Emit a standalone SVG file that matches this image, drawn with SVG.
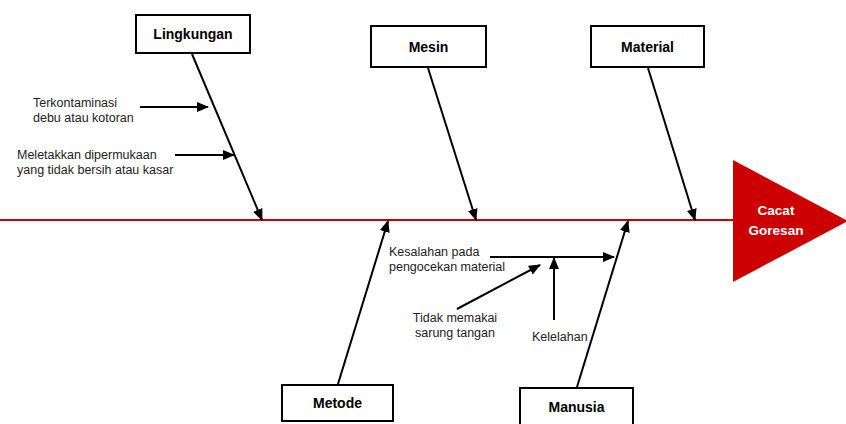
<svg xmlns="http://www.w3.org/2000/svg" width="846" height="424" viewBox="0 0 846 424">
<defs>
<marker id="ah" markerUnits="userSpaceOnUse" markerWidth="12" markerHeight="10" refX="11" refY="5" orient="auto">
<path d="M0,0 L12,5 L0,10 Z" fill="#000"/>
</marker>
<style>
.box{fill:#fff;stroke:#000;stroke-width:2}
.lbl{font-family:"Liberation Sans",Arial,sans-serif;font-weight:bold;font-size:14px;fill:#000;text-anchor:middle}
.txt{font-family:"Liberation Sans",Arial,sans-serif;font-size:12.5px;fill:#222}
.con{stroke:#000;stroke-width:2;fill:none;marker-end:url(#ah)}
.head{font-family:"Liberation Sans",Arial,sans-serif;font-weight:bold;font-size:13.5px;fill:#fff;text-anchor:middle}
</style>
</defs>
<rect width="846" height="424" fill="#fff"/>
<g id="spine">
<line x1="0" y1="220" x2="735" y2="220" stroke="#cc0000" stroke-width="2"/>
</g>
<g id="connectors">
<line class="con" x1="192" y1="54" x2="262" y2="220"/>
<line class="con" x1="428" y1="68" x2="476" y2="220"/>
<line class="con" x1="648" y1="68" x2="695" y2="220"/>
<line class="con" x1="338" y1="384" x2="388" y2="221"/>
<line class="con" x1="577" y1="387" x2="628" y2="221"/>
<line class="con" x1="140" y1="107" x2="208" y2="107"/>
<line class="con" x1="175" y1="155" x2="234" y2="155"/>
<line class="con" x1="490" y1="257" x2="614" y2="257"/>
<line class="con" x1="457" y1="309" x2="540" y2="265"/>
<line class="con" x1="554" y1="320" x2="554" y2="258"/>
</g>
<g id="effect">
<path d="M733,160 L848,221 L733,282 Z" fill="#cc0000"/>
<text class="head" x="776" y="215">Cacat</text>
<text class="head" x="776" y="235">Goresan</text>
</g>
<g id="lingkungan">
<rect class="box" x="136" y="15" width="114" height="38"/>
<text class="lbl" x="193" y="39">Lingkungan</text>
</g>
<g id="mesin">
<rect class="box" x="371" y="26" width="115" height="41"/>
<text class="lbl" x="428.5" y="51.5">Mesin</text>
</g>
<g id="material">
<rect class="box" x="591" y="26" width="113" height="41"/>
<text class="lbl" x="647.5" y="51.5">Material</text>
</g>
<g id="metode">
<rect class="box" x="282" y="385" width="111" height="36"/>
<text class="lbl" x="337.5" y="408">Metode</text>
</g>
<g id="manusia">
<rect class="box" x="520" y="388" width="113" height="38"/>
<text class="lbl" x="576.5" y="412">Manusia</text>
</g>
<g id="terkontaminasi">
<text class="txt" x="33" y="107">Terkontaminasi</text>
<text class="txt" x="33" y="122">debu atau kotoran</text>
</g>
<g id="meletakkan">
<text class="txt" x="17" y="159">Meletakkan dipermukaan</text>
<text class="txt" x="17" y="174">yang tidak bersih atau kasar</text>
</g>
<g id="kesalahan">
<text class="txt" x="389" y="256">Kesalahan pada</text>
<text class="txt" x="389" y="271">pengocekan material</text>
</g>
<g id="tidak-memakai">
<text class="txt" x="455" y="322" text-anchor="middle">Tidak memakai</text>
<text class="txt" x="455" y="337" text-anchor="middle">sarung tangan</text>
</g>
<g id="kelelahan">
<text class="txt" x="532" y="341">Kelelahan</text>
</g>
</svg>
